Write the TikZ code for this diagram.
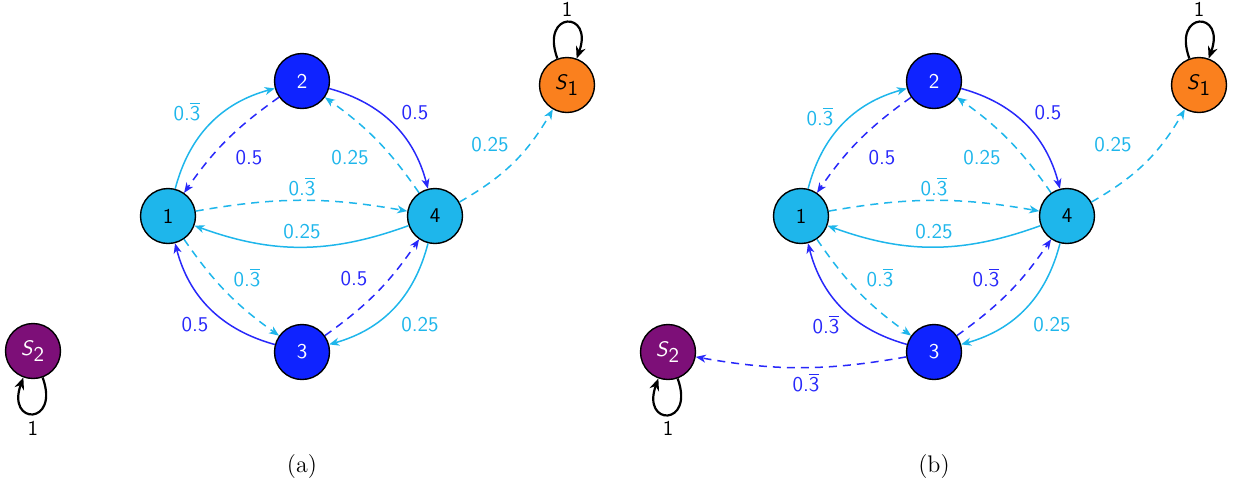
\documentclass[tikz,border=0pt]{standalone}
\usetikzlibrary{arrows.meta}
\definecolor{cyanA}{RGB}{30,182,235}
\definecolor{blueA}{RGB}{15,35,255}
\definecolor{edgeB}{RGB}{40,40,250}
\definecolor{orangeA}{RGB}{250,128,30}
\definecolor{purpleA}{RGB}{125,15,120}
\newcommand{\thr}{0.$\overline{\mbox{3}}$}
\tikzset{
 st/.style={circle,draw=black,line width=0.7pt,minimum size=27.5pt,inner sep=0pt,font=\sffamily\fontsize{10.5}{12}\selectfont},
 lc/.style={st,fill=cyanA,text=black},
 db/.style={st,fill=blueA,text=white},
 ee/.style={line width=0.75pt,-{Stealth[length=5pt,width=4pt,inset=1.5pt]}},
 ec/.style={ee,draw=cyanA},
 eb/.style={ee,draw=edgeB},
 dsh/.style={dash pattern=on 4pt off 3pt},
 lbc/.style={text=cyanA,font=\sffamily\fontsize{10.5}{12}\selectfont,solid},
 lbb/.style={text=edgeB,font=\sffamily\fontsize{10.5}{12}\selectfont,solid},
 lblk/.style={text=black,font=\sffamily\fontsize{10.5}{12}\selectfont},
 lp/.style={draw=black,line width=1.1pt,-{Stealth[length=6pt,width=5pt,inset=2pt]},min distance=9mm},
 captxt/.style={font=\large},
}
\begin{document}
\begin{tikzpicture}[x=0.5pt,y=0.5pt]
\useasboundingbox (0,0) rectangle (1240,-489);
% ---------- (a)
\node[lc] (a1) at (168,-216) {1};
\node[db] (a2) at (302,-81) {2};
\node[lc] (a4) at (435,-216) {4};
\node[db] (a3) at (302,-352) {3};
\node[st,fill=orangeA] (aS1) at (567,-85) {$\textsf{\textit{S}}_{\textsf{1}}$};
\node[st,fill=purpleA,text=white] (aS2) at (33,-351) {$\textsf{\textit{S}}_{\textsf{2}}$};
\draw[ec] (a1) to[bend left=30] (a2) node[lbc] at (187,-112) {\thr};
\draw[eb,dsh] (a2) to[bend right=10] (a1) node[lbb] at (249,-158) {0.5};
\draw[eb] (a2) to[bend left=30] (a4) node[lbb] at (415,-113) {0.5};
\draw[ec,dsh] (a4) to[bend right=10] (a2) node[lbc] at (350,-158) {0.25};
\draw[ec,dsh] (a1) to[bend left=10] (a4) node[lbc] at (302,-187) {\thr};
\draw[ec] (a4) to[bend left=20] (a1) node[lbc] at (302,-232) {0.25};
\draw[ec,dsh] (a1) to[bend right=10] (a3) node[lbc] at (247,-278) {\thr};
\draw[eb] (a3) to[bend left=30] (a1) node[lbb] at (195,-325) {0.5};
\draw[eb,dsh] (a3) to[bend right=10] (a4) node[lbb] at (354,-279) {0.5};
\draw[ec] (a4) to[bend left=30] (a3) node[lbc] at (420,-325) {0.25};
\draw[ec,dsh] (a4) to[bend right=15] (aS1) node[lbc] at (490,-145) {0.25};
\draw[lp] (aS1) to[out=110,in=70,looseness=6] (aS1) node[lblk] at (567,-9) {1};
\draw[lp] (aS2) to[out=-70,in=-110,looseness=6] (aS2) node[lblk] at (33,-428) {1};
\node[captxt] (capa) at (302,-466) {(a)};
% ---------- (b)
\node[lc] (b1) at (801,-216) {1};
\node[db] (b2) at (934,-81) {2};
\node[lc] (b4) at (1067,-216) {4};
\node[db] (b3) at (934,-352) {3};
\node[st,fill=orangeA] (bS1) at (1199,-85) {$\textsf{\textit{S}}_{\textsf{1}}$};
\node[st,fill=purpleA,text=white] (bS2) at (668,-352) {$\textsf{\textit{S}}_{\textsf{2}}$};
\draw[ec] (b1) to[bend left=30] (b2) node[lbc] at (820,-117) {\thr};
\draw[eb,dsh] (b2) to[bend right=10] (b1) node[lbb] at (882,-158) {0.5};
\draw[eb] (b2) to[bend left=30] (b4) node[lbb] at (1048,-113) {0.5};
\draw[ec,dsh] (b4) to[bend right=10] (b2) node[lbc] at (982,-158) {0.25};
\draw[ec,dsh] (b1) to[bend left=10] (b4) node[lbc] at (934,-187) {\thr};
\draw[ec] (b4) to[bend left=20] (b1) node[lbc] at (934,-232) {0.25};
\draw[ec,dsh] (b1) to[bend right=10] (b3) node[lbc] at (880,-278) {\thr};
\draw[eb] (b3) to[bend left=30] (b1) node[lbb] at (826,-325) {\thr};
\draw[eb,dsh] (b3) to[bend right=10] (b4) node[lbb] at (986,-278) {\thr};
\draw[ec] (b4) to[bend left=30] (b3) node[lbc] at (1052,-325) {0.25};
\draw[ec,dsh] (b4) to[bend right=15] (bS1) node[lbc] at (1113,-145) {0.25};
\draw[eb,dsh] (b3) to[bend left=10] (bS2) node[lbb] at (806,-383) {\thr};
\draw[lp] (bS1) to[out=110,in=70,looseness=6] (bS1) node[lblk] at (1199,-9) {1};
\draw[lp] (bS2) to[out=-70,in=-110,looseness=6] (bS2) node[lblk] at (668,-428) {1};
\node[captxt] (capb) at (934,-466) {(b)};
\end{tikzpicture}
\end{document}
